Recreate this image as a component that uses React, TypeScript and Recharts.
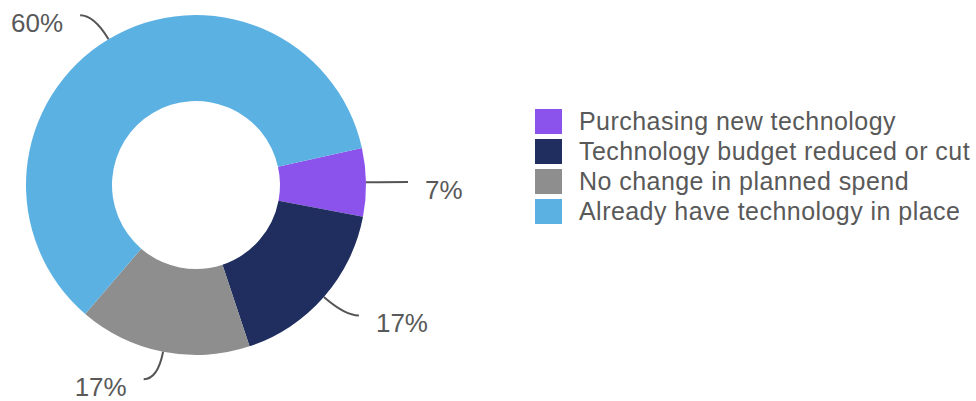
import React from 'react';
import { PieChart, Pie, Cell, Legend } from 'recharts';

const categories = [
  'Purchasing new technology',
  'Technology budget reduced or cut',
  'No change in planned spend',
  'Already have technology in place',
];
const shares = [6.5, 16.9, 16.4, 60.2];
const shareLabels = ['7%', '17%', '17%', '60%'];
const colors = ['#8b52ec', '#1f2e5e', '#8e8e8e', '#5cb1e3'];

const data = categories.map((name, i) => ({ name, value: shares[i], label: shareLabels[i] }));

const RAD = Math.PI / 180;

// curved leader line + label outside each slice
const renderLabel = (props: any) => {
  const { cx, cy, midAngle, outerRadius, index } = props;
  const cos = Math.cos(-midAngle * RAD);
  const sin = Math.sin(-midAngle * RAD);
  const sx = cx + outerRadius * cos;
  const sy = cy + outerRadius * sin;
  const mx = cx + (outerRadius + 28) * cos;
  const my = cy + (outerRadius + 28) * sin;
  const dir = cos >= 0 ? 1 : -1;
  const ex = mx + dir * 14;
  const ey = my;
  return (
    <g key={`lbl-${index}`}>
      <path d={`M${sx},${sy} Q${mx},${my} ${ex},${ey}`} stroke="#555" strokeWidth={2} fill="none" />
      <text
        x={ex + dir * 17}
        y={ey + 8}
        textAnchor={dir > 0 ? 'start' : 'end'}
        dominantBaseline="central"
        fill="#595959"
        fontSize={26}
        fontFamily="Liberation Sans, Arial, sans-serif"
      >
        {data[index].label}
      </text>
    </g>
  );
};

const renderLegend = () => (
  <div style={{ fontFamily: 'Liberation Sans, Arial, sans-serif' }}>
    {categories.map((c, i) => (
      <div key={c} style={{ display: 'flex', alignItems: 'center', height: 30 }}>
        <div style={{ width: 27, height: 25, background: colors[i], marginRight: 17, flexShrink: 0 }} />
        <span style={{ fontSize: 25, letterSpacing: 0.45, color: '#595959', whiteSpace: 'nowrap' }}>{c}</span>
      </div>
    ))}
  </div>
);

const App: React.FC = () => {
  return (
    <div style={{ position: 'absolute', left: 0, top: 0, width: 976, height: 401, background: '#fff' }}>
      <PieChart width={976} height={401} margin={{ top: 0, right: 0, bottom: 0, left: 0 }}>
        <Pie
          data={data}
          dataKey="value"
          cx={196}
          cy={185}
          innerRadius={84}
          outerRadius={170}
          startAngle={12.6}
          endAngle={-347.4}
          stroke="none"
          label={renderLabel}
          labelLine={false}
          isAnimationActive={false}
        >
          {data.map((d, i) => (
            <Cell key={d.name} fill={colors[i]} />
          ))}
        </Pie>
        <Legend
          layout="vertical"
          content={renderLegend}
          wrapperStyle={{ left: 535, top: 106, width: 440 }}
        />
      </PieChart>
    </div>
  );
};

export default App;
